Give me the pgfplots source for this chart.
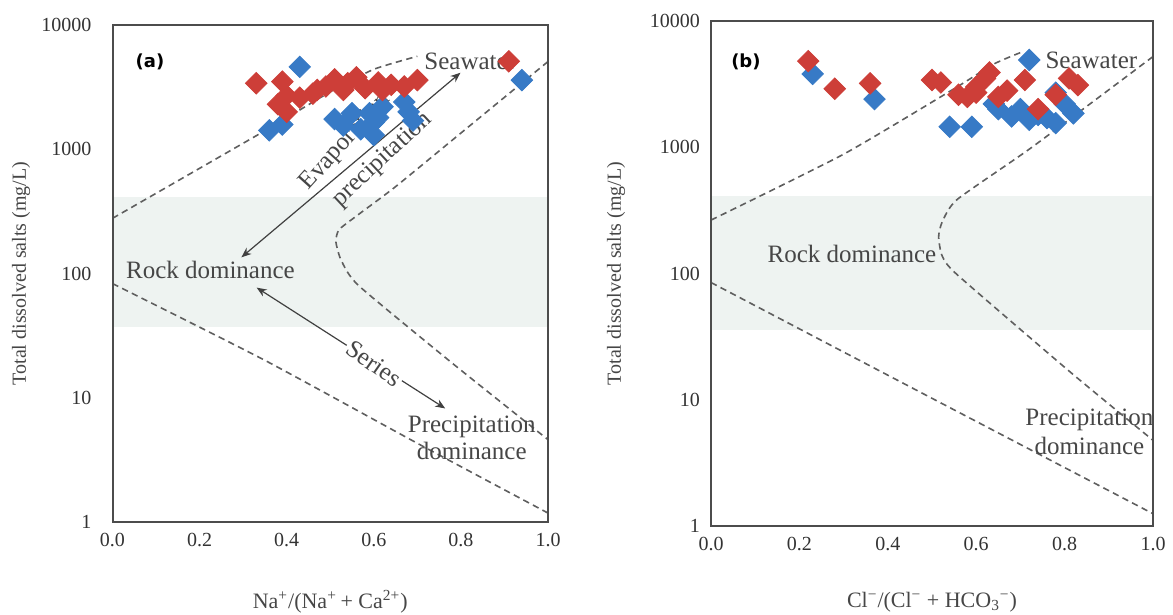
\documentclass[border=0pt]{standalone}
\usepackage{fontspec}
\setmainfont{Liberation Serif}
\newfontfamily\tagfont{DejaVu Sans}
\usepackage{pgfplots}
\pgfplotsset{compat=1.18}
\usetikzlibrary{arrows.meta}

\definecolor{redpt}{RGB}{205,62,56}
\definecolor{bluept}{RGB}{55,122,198}
\definecolor{band}{RGB}{238,243,241}
\definecolor{dashc}{RGB}{95,95,95}
\definecolor{txt}{RGB}{70,70,70}

\tikzset{
  ann/.style={font=\fontsize{12.5}{13}\selectfont, text=txt},
  tagf/.style={font=\tagfont\bfseries\fontsize{9}{10}\selectfont, text=black},
  bnd/.style={draw=dashc, line width=0.8pt, dash pattern=on 3.2pt off 2.2pt},
  arr/.style={draw=black!75, line width=0.6pt,
    {Stealth[length=5pt,width=4pt]}-{Stealth[length=5pt,width=4pt]}},
}

\begin{document}
\begin{tikzpicture}
% ---------------- panel (a)
\begin{axis}[scale only axis, ymode=log,
  at={(56.25pt,46.5pt)}, anchor=south west,
  width=217.75pt, height=248.5pt,
  xmin=0, xmax=1, ymin=1, ymax=10000,
  xtick={0,0.2,0.4,0.6,0.8,1},
  ytick={1,10,100,1000,10000},
  yticklabels={1,10,100,1000,10000},
  x tick label style={/pgf/number format/fixed, /pgf/number format/fixed zerofill,
    /pgf/number format/precision=1, /pgf/number format/assume math mode=true, yshift=-2pt},
  y tick label style={xshift=-7pt},
  tick label style={font=\fontsize{10}{12}\selectfont, text=black!80},
  tick style={draw=none},
  axis line style={draw=black!70, line width=1pt},
  clip=false, axis on top,
  xlabel={Na\textsuperscript{+}/(Na\textsuperscript{+}\,+ Ca\textsuperscript{2+})},
  ylabel={Total dissolved salts (mg/L)},
  xlabel style={at={(axis description cs:0.5,-0.16)}, anchor=center, text=txt, font=\fontsize{11}{13}\selectfont},
  ylabel style={at={(axis description cs:-0.21,0.5)}, anchor=center, text=txt, font=\fontsize{10}{12}\selectfont},
]
\addplot[fill=band, draw=none] coordinates {(0,37) (1,37) (1,410) (0,410)} -- cycle;
\addplot[bnd, smooth, tension=0.35] coordinates {(0,278) (0.35,1410) (0.5,2900) (0.6,4400) (0.7,5600)};
\addplot[bnd, smooth, tension=0.35] coordinates {(1,5080) (0.8,1350) (0.65,500) (0.56,290) (0.52,225) (0.513,180) (0.525,128) (0.565,80) (0.78,19) (1,4.6)};
\addplot[bnd, smooth, tension=0.35] coordinates {(0,83) (0.35,20) (0.7,4.3) (1,1.18)};
\addplot[arr] coordinates {(0.296,135) (0.799,4130)};
\addplot[arr] coordinates {(0.331,77) (0.764,8.2)};
\node[tagf] at (axis cs:0.086,5080) {(a)};
\node[ann, anchor=west] at (axis cs:0.70,5080) {Seawater};
\node[ann, rotate=48] at (axis cs:0.535,1150) {Evaporation};
\node[ann, rotate=43] at (axis cs:0.62,820) {precipitation};
\node[ann, anchor=west] at (axis cs:0.015,106) {Rock dominance};
\node[ann, rotate=-35, fill=white, inner sep=1pt] at (axis cs:0.6,18.8) {Series};
\node[ann] at (axis cs:0.825,5.8) {Precipitation};
\node[ann] at (axis cs:0.825,3.7) {dominance};
\addplot[only marks, mark=square*, mark size=3.8pt, color=bluept, mark options={rotate=45}]
  coordinates {(0.43,4600) (0.36,1420) (0.39,1580) (0.51,1750) (0.53,1550)
  (0.55,1950) (0.57,1450) (0.59,1950) (0.60,1300) (0.61,1800) (0.62,2200) (0.60,1650)
  (0.67,2400) (0.68,2000) (0.69,1700) (0.94,3600)};
\addplot[only marks, mark=square*, mark size=3.8pt, color=redpt, mark options={rotate=45}]
  coordinates {(0.33,3400) (0.39,3500) (0.40,2700) (0.40,2000) (0.38,2300)
  (0.43,2600) (0.46,2800) (0.49,3200) (0.51,3650) (0.53,3000) (0.56,3800) (0.58,3100)
  (0.61,3450) (0.62,3000) (0.64,3300) (0.67,3200) (0.70,3600) (0.91,5100) (0.47,3000)
  (0.54,3400)};
\end{axis}
% ---------------- panel (b)
\begin{axis}[scale only axis, ymode=log,
  at={(355.5pt,44.3pt)}, anchor=south west,
  width=221pt, height=252.8pt,
  xmin=0, xmax=1, ymin=1, ymax=10000,
  xtick={0,0.2,0.4,0.6,0.8,1},
  ytick={1,10,100,1000,10000},
  yticklabels={1,10,100,1000,10000},
  x tick label style={/pgf/number format/fixed, /pgf/number format/fixed zerofill,
    /pgf/number format/precision=1, /pgf/number format/assume math mode=true, yshift=-2pt},
  y tick label style={xshift=-2pt},
  tick label style={font=\fontsize{10}{12}\selectfont, text=black!80},
  tick style={draw=none},
  axis line style={draw=black!70, line width=1pt},
  clip=false, axis on top,
  xlabel={Cl\textsuperscript{−}/(Cl\textsuperscript{−} + HCO\textsubscript{3}\textsuperscript{−})},
  ylabel={Total dissolved salts (mg/L)},
  xlabel style={at={(axis description cs:0.5,-0.15)}, anchor=center, text=txt, font=\fontsize{11}{13}\selectfont},
  ylabel style={at={(axis description cs:-0.215,0.5)}, anchor=center, text=txt, font=\fontsize{10}{12}\selectfont},
]
\addplot[fill=band, draw=none] coordinates {(0,36) (1,36) (1,413) (0,413)} -- cycle;
\addplot[bnd, smooth, tension=0.35] coordinates {(0,265) (0.3,880) (0.55,2900) (0.64,4550) (0.7,5600)};
\addplot[bnd, smooth, tension=0.35] coordinates {(1,5210) (0.728,1010) (0.557,386) (0.523,256) (0.515,195) (0.523,138) (0.557,98) (0.814,16.5) (1,4.8)};
\addplot[bnd, smooth, tension=0.35] coordinates {(0,85) (0.47,11.7) (1,1.26)};
\node[tagf] at (axis cs:0.079,4700) {(b)};
\node[ann, anchor=west] at (axis cs:0.741,4900) {Seawater};
\node[ann, anchor=west] at (axis cs:0.112,143) {Rock dominance};
\node[ann] at (axis cs:0.856,7.0) {Precipitation};
\node[ann] at (axis cs:0.856,4.35) {dominance};
\addplot[only marks, mark=square*, mark size=3.8pt, color=bluept, mark options={rotate=45}]
  coordinates {(0.23,3800) (0.37,2400) (0.54,1450) (0.59,1450) (0.64,2200)
  (0.65,2000) (0.68,1750) (0.70,2000) (0.72,1650) (0.74,1800) (0.76,1700) (0.78,1550)
  (0.80,2200) (0.82,1850) (0.72,4900) (0.78,2700)};
\addplot[only marks, mark=square*, mark size=3.8pt, color=redpt, mark options={rotate=45}]
  coordinates {(0.22,4800) (0.28,2900) (0.36,3200) (0.50,3400) (0.52,3250)
  (0.56,2600) (0.58,2500) (0.60,3000) (0.62,3500) (0.63,3900) (0.65,2500) (0.67,2800)
  (0.71,3400) (0.74,2000) (0.78,2600) (0.81,3500) (0.83,3100) (0.60,2700)};
\end{axis}
\pgfresetboundingbox
\useasboundingbox (0,0) rectangle (586.5pt,307.5pt);
\end{tikzpicture}
\end{document}
